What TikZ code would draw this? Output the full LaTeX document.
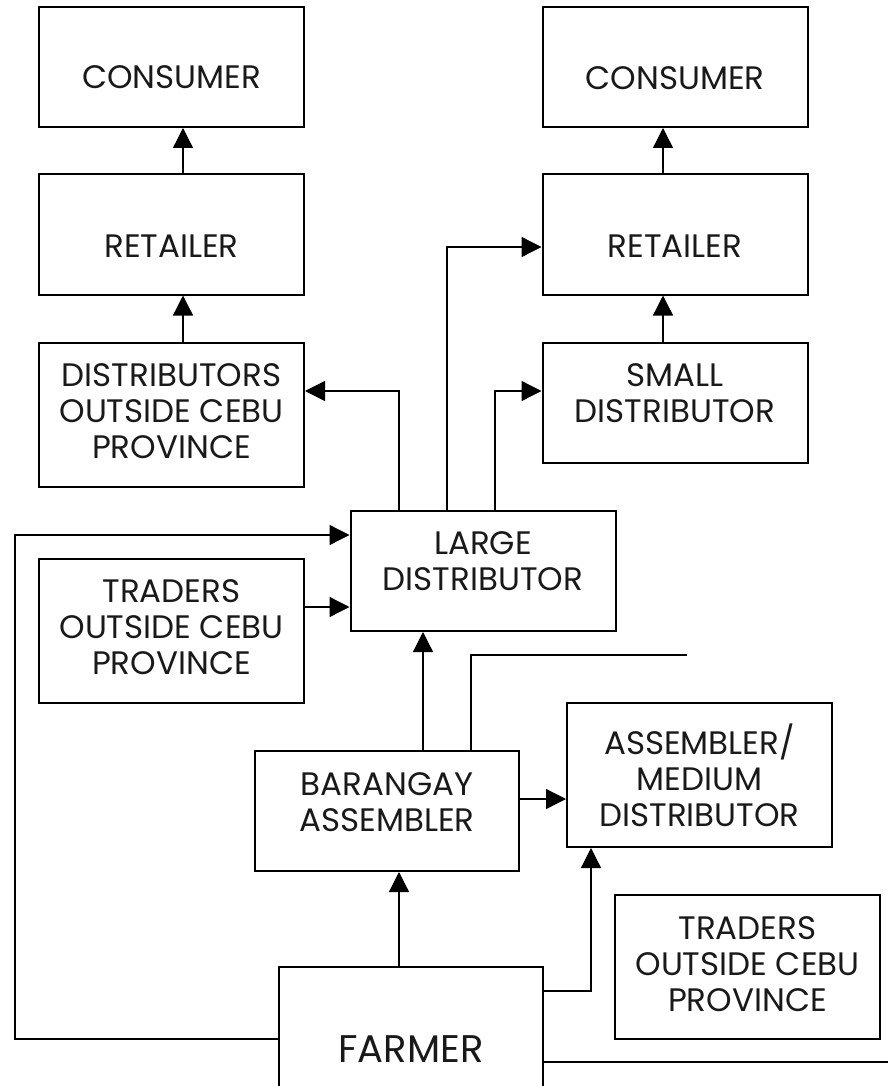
\documentclass[tikz,border=0pt]{standalone}
\usepackage{fontspec}
\setmainfont{Poppins}
\usetikzlibrary{arrows.meta}
\begin{document}
\begin{tikzpicture}[x=1pt,y=-1pt,
  box/.style={draw=black,line width=2pt,rectangle,inner sep=0pt,minimum width=265pt},
  boxa/.style={box,minimum height=120pt},
  boxb/.style={box,minimum height=144pt},
  lbl/.style={inner sep=0pt,anchor=north,align=center,text=black!90,font=\fontsize{32.5}{36}\selectfont},
  conn/.style={line width=1.3pt},
  arr/.style={conn,-{Triangle[length=20pt,width=20pt]}}]
\useasboundingbox (0,0) rectangle (888,1086);
\clip (0,0) rectangle (888,1086);
% boxes
\node[boxa] (consL) at (171.5,67) {};
\node[boxa] (consR) at (675,67) {};
\node[boxa] (retL) at (171.5,234.5) {};
\node[boxa] (retR) at (675,234.5) {};
\node[boxb] (distOut) at (171.5,415) {};
\node[boxa] (small) at (675,403) {};
\node[boxa] (ld) at (483,571) {};
\node[boxb] (tradL) at (171.5,631) {};
\node[box,minimum width=264pt,minimum height=120pt] (barang) at (387,811) {};
\node[boxb] (amd) at (699.5,775) {};
\node[boxb] (tradR) at (747.5,967) {};
\node[box,minimum width=264pt,minimum height=150pt] (farmer) at (411,1042) {};
% labels
\node[lbl] (consLt) at (171.5,65) {CONSUMER};
\node[lbl] (consRt) at (675,66) {CONSUMER};
\node[lbl] (retLt) at (171.5,235) {RETAILER};
\node[lbl] (retRt) at (675,235) {RETAILER};
\node[lbl] (distOutt) at (171.5,363) {DISTRIBUTORS\\OUTSIDE CEBU\\PROVINCE};
\node[lbl] (smallt) at (675,363) {SMALL\\DISTRIBUTOR};
\node[lbl] (ldt) at (483,531) {LARGE\\DISTRIBUTOR};
\node[lbl] (tradLt) at (171.5,579) {TRADERS\\OUTSIDE CEBU\\PROVINCE};
\node[lbl] (barangt) at (387,772) {BARANGAY\\ASSEMBLER};
\node[lbl] (amdt) at (699.5,724) {ASSEMBLER/\\MEDIUM\\DISTRIBUTOR};
\node[lbl] (tradRt) at (747.5,916) {TRADERS\\OUTSIDE CEBU\\PROVINCE};
\node[lbl,font=\fontsize{38.5}{42}\selectfont] (farmert) at (411,1035) {FARMER};
% helper coordinates
\coordinate (xL) at (183,0);
\coordinate (xR) at (663,0);
\coordinate (a1) at (399,391);
\coordinate (a2) at (447,247);
\coordinate (a3) at (495,391);
\coordinate (a4) at (15,1039);
\coordinate (a5) at (15,535);
\coordinate (a6) at (0,607);
\coordinate (a7) at (471,655);
\coordinate (e1) at (687,655);
\coordinate (a8) at (591,991);
\coordinate (e2) at (888,1062);
\coordinate (xB) at (423,0);
\coordinate (yB) at (0,799);
\coordinate (xF) at (399,0);
% connectors
\draw[arr] (retL.north -| xL) -- (consL.south -| xL);
\draw[arr] (distOut.north -| xL) -- (retL.south -| xL);
\draw[arr] (retR.north -| xR) -- (consR.south -| xR);
\draw[arr] (small.north -| xR) -- (retR.south -| xR);
\draw[arr] (ld.north -| a1) -- (a1) -- (distOut.east |- a1);
\draw[arr] (ld.north -| a2) -- (a2) -- (retR.west |- a2);
\draw[arr] (ld.north -| a3) -- (a3) -- (small.west |- a3);
\draw[arr] (farmer.west |- a4) -- (a4) -- (a5) -- (ld.west |- a5);
\draw[arr] (tradL.east |- a6) -- (ld.west |- a6);
\draw[arr] (barang.north -| xB) -- (ld.south -| xB);
\draw[conn] (barang.north -| a7) -- (a7) -- (e1);
\draw[arr] (barang.east |- yB) -- (amd.west |- yB);
\draw[arr] (farmer.north -| xF) -- (barang.south -| xF);
\draw[arr] (farmer.east |- a8) -- (a8) -- (amd.south -| a8);
\draw[conn] (farmer.east |- e2) -- (e2);
\end{tikzpicture}
\end{document}
